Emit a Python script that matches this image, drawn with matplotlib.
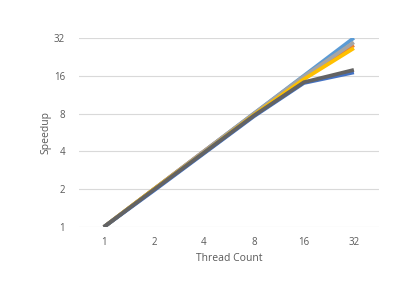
import matplotlib.pyplot as plt
import numpy as np

threads = ['1', '2', '4', '8', '16', '32']
blue = [1, 2, 4, 8, 16, 32]
orange = [1, 2, 4, 7.9, 15.5, 28]
gray = [1, 2, 4, 8, 15.8, 29.5]
yellow = [1, 2, 3.9, 7.8, 15, 26.5]
dark_blue = [1, 1.95, 3.85, 7.6, 14, 17]
dark_gray = [1, 1.98, 3.9, 7.7, 14.2, 17.8]

series = [
    (blue, '#5B9BD5'),
    (orange, '#ED7D31'),
    (gray, '#A5A5A5'),
    (yellow, '#FFC000'),
    (dark_blue, '#4472C4'),
    (dark_gray, '#636363'),
]

plt.rcParams['font.family'] = ['Open Sans', 'DejaVu Sans']
fig = plt.figure(figsize=(4.15, 2.87), dpi=100)
ax = fig.add_axes([0.19, 0.209, 0.723, 0.659])

x = np.arange(len(threads))
for vals, col in series:
    ax.plot(x, vals, color=col, linewidth=2.7, solid_capstyle='butt')

ax.set_yscale('log', base=2)
yt = [1, 2, 4, 8, 16, 32]
ax.set_yticks(yt)
ax.set_yticklabels([str(v) for v in yt])
ax.minorticks_off()
ax.set_ylim(1, 32)
ax.set_xlim(-0.5, len(threads) - 0.5)
ax.set_xticks(x)
ax.set_xticklabels(threads)

ax.grid(axis='y', color='#D9D9D9', linewidth=0.8)
ax.set_axisbelow(True)
for s in ax.spines.values():
    s.set_visible(False)
ax.tick_params(axis='y', length=0, labelsize=7, colors='#595959', pad=10)
ax.tick_params(axis='x', length=0, labelsize=7, colors='#595959', pad=7)
ax.set_xlabel('Thread Count', fontsize=7.5, color='#595959')
ax.set_ylabel('Speedup', fontsize=7.5, color='#595959')
ax.xaxis.set_label_coords(0.5, -0.138)
ax.yaxis.set_label_coords(-0.09, 0.5)

fig.savefig('out.png', dpi=100)
